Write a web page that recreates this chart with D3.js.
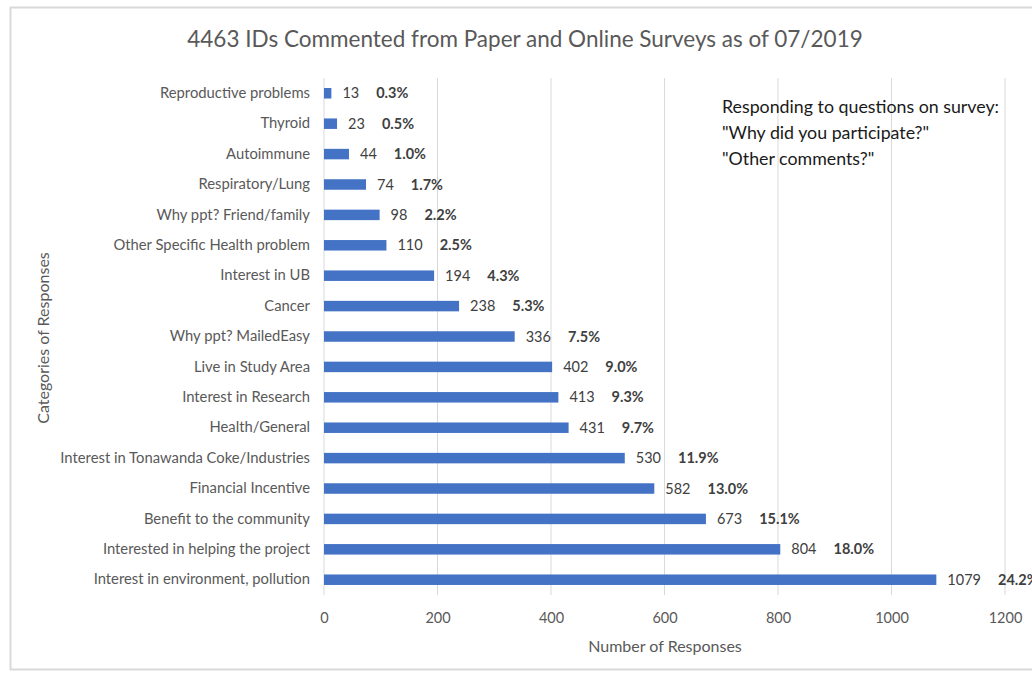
<!DOCTYPE html>
<html>
<head>
<meta charset="utf-8">
<script src="https://cdn.jsdelivr.net/npm/d3@7"></script>
<style>
  body { margin: 0; background: #fff; }
  svg { font-family: Lato, "Open Sans", sans-serif; }
</style>
</head>
<body>
<svg width="1032" height="677"></svg>
<script>
const categories = [
  "Reproductive problems", "Thyroid", "Autoimmune", "Respiratory/Lung",
  "Why ppt? Friend/family", "Other Specific Health problem", "Interest in UB",
  "Cancer", "Why ppt? MailedEasy", "Live in Study Area", "Interest in Research",
  "Health/General", "Interest in Tonawanda Coke/Industries", "Financial Incentive",
  "Benefit to the community", "Interested in helping the project",
  "Interest in environment, pollution"
];
const counts = [13, 23, 44, 74, 98, 110, 194, 238, 336, 402, 413, 431, 530, 582, 673, 804, 1079];
const percents = ["0.3%", "0.5%", "1.0%", "1.7%", "2.2%", "2.5%", "4.3%", "5.3%", "7.5%",
  "9.0%", "9.3%", "9.7%", "11.9%", "13.0%", "15.1%", "18.0%", "24.2%"];
const xTicks = [0, 200, 400, 600, 800, 1000, 1200];
const noteLines = ["Responding to questions on survey:", "\"Why did you participate?\"", "\"Other comments?\""];

const data = categories.map((c, i) => ({ cat: c, n: counts[i], pct: percents[i] }));

const margin = { top: 78, right: 27, bottom: 82, left: 324 },
      width = 1032 - margin.left - margin.right,
      height = 677 - margin.top - margin.bottom;

const root = d3.select("svg");

// outer frame
root.append("rect")
  .attr("x", 10.5).attr("y", 7.5)
  .attr("width", 1040).attr("height", 662)
  .attr("fill", "none").attr("stroke", "#d9d9d9").attr("stroke-width", 2);

const svg = root.append("g")
  .attr("transform", `translate(${margin.left},${margin.top})`);

const x = d3.scaleLinear().domain([0, 1200]).range([0, 681]);
const y = d3.scaleBand().domain(categories).range([0, height]).paddingInner(0.655).paddingOuter(0.33);

// gridlines
svg.append("g")
  .selectAll("line")
  .data(xTicks)
  .join("line")
  .attr("x1", d => x(d)).attr("x2", d => x(d))
  .attr("y1", 0).attr("y2", height)
  .attr("stroke", "#d9d9d9").attr("stroke-width", 1);

// x axis
const xAxis = svg.append("g")
  .attr("transform", `translate(0,${height})`)
  .call(d3.axisBottom(x).tickValues(xTicks).tickFormat(d3.format("d")).tickSize(0).tickPadding(18));
xAxis.select(".domain").remove();
xAxis.selectAll("text").attr("font-size", 14.5).attr("fill", "#595959").attr("font-family", "Lato, sans-serif");

// y axis
const yAxis = svg.append("g")
  .call(d3.axisLeft(y).tickSize(0).tickPadding(14));
yAxis.select(".domain").remove();
yAxis.selectAll("text").attr("font-size", 14.8).attr("fill", "#595959").attr("font-family", "Lato, sans-serif");

// bars
svg.selectAll(".bar")
  .data(data)
  .join("rect")
  .attr("class", "bar")
  .attr("x", x(0))
  .attr("y", d => y(d.cat))
  .attr("width", d => x(d.n) - x(0))
  .attr("height", y.bandwidth())
  .attr("fill", "#4472c4");

// value labels
const lab = svg.selectAll(".lab")
  .data(data)
  .join("text")
  .attr("class", "lab")
  .attr("x", d => x(d.n) + 11)
  .attr("y", d => y(d.cat) + y.bandwidth() / 2)
  .attr("dy", "0.35em")
  .attr("font-size", 14.5)
  .attr("fill", "#404040");
lab.append("tspan").text(d => d.n);
lab.append("tspan").attr("dx", 17).attr("font-weight", "bold").text(d => d.pct);

// title
root.append("text")
  .attr("x", 525).attr("y", 47)
  .attr("text-anchor", "middle")
  .attr("font-size", 22.5)
  .attr("fill", "#595959")
  .text("4463 IDs Commented from Paper and Online Surveys as of 07/2019");

// axis titles
root.append("text")
  .attr("x", 665).attr("y", 652)
  .attr("text-anchor", "middle")
  .attr("font-size", 16).attr("fill", "#595959")
  .text("Number of Responses");

root.append("text")
  .attr("transform", "translate(49,338) rotate(-90)")
  .attr("text-anchor", "middle")
  .attr("font-size", 16).attr("fill", "#595959")
  .text("Categories of Responses");

// note
root.append("g").selectAll("text")
  .data(noteLines)
  .join("text")
  .attr("x", 722)
  .attr("y", (d, i) => 113 + i * 26)
  .attr("font-size", 17.8)
  .attr("fill", "#1a1a1a")
  .text(d => d);
</script>
</body>
</html>
